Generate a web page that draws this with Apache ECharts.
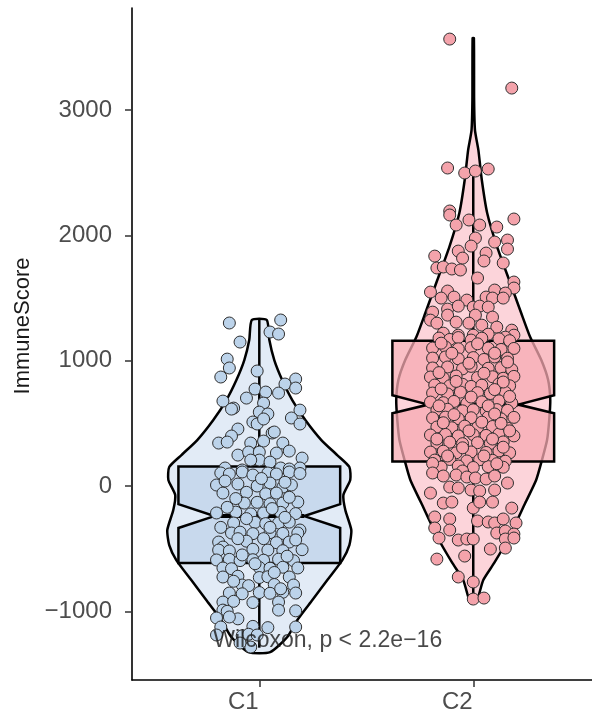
<!DOCTYPE html>
<html>
<head>
<meta charset="utf-8">
<script src="https://cdn.jsdelivr.net/npm/echarts@6/dist/echarts.min.js"></script>
<style>
  html, body { margin: 0; padding: 0; background: #fff; }
  #chart { width: 592px; height: 721px; }
</style>
</head>
<body>
<div id="chart"></div>
<script>
var groups = ["C1", "C2"];
var yTicks = [-1000, 0, 1000, 2000, 3000];

// violin outlines: score levels and half widths (in group units)
var c1ViolinY = [1325, 1165, 1005, 846, 686, 527, 367, 247, 152, 48, -72, -192, -351, -471, -591, -750, -910, -1069, -1205, -1325];
var c1ViolinW = [0.035, 0.047, 0.070, 0.107, 0.154, 0.215, 0.290, 0.364, 0.421, 0.425, 0.393, 0.402, 0.430, 0.421, 0.388, 0.318, 0.248, 0.178, 0.131, 0.051];
var c2ViolinY = [3575, 3080, 2841, 2681, 2442, 2179, 1907, 1644, 1381, 1189, 1005, 846, 686, 527, 367, 200, 48, -136, -407, -614, -750, -886, -926];
var c2ViolinW = [0.003, 0.004, 0.008, 0.024, 0.040, 0.065, 0.112, 0.168, 0.224, 0.266, 0.318, 0.350, 0.360, 0.355, 0.345, 0.320, 0.294, 0.243, 0.168, 0.098, 0.047, 0.023, 0.009];

// box: lower whisker, Q1, notch low, median, notch high, Q3, upper whisker
var c1Box = [-1290, -614, -335, -240, -145, 155, 1325];
var c2Box = [-902, 195, 580, 650, 725, 1160, 2540];

// jittered samples: [horizontal jitter, ImmuneScore]
var c1Points = [
  [-0.14,1301],[0.10,1325],[0.05,1229],[0.09,1213],[-0.09,1149],[-0.15,1013],[-0.14,942],[-0.18,870],[-0.01,918],[0.17,854],
  [0.12,814],[0.17,782],[-0.17,678],[-0.06,702],[-0.02,774],[0.03,750],[0.09,742],[0.02,662],[-0.12,622],[-0.13,614],
  [0.00,590],[0.04,575],[0.19,606],[0.15,543],[0.19,495],[-0.03,511],[-0.01,495],[0.02,535],[-0.10,455],[-0.13,399],
  [0.06,423],[0.07,431],[-0.19,343],[-0.15,351],[-0.04,343],[0.02,359],[0.11,343],[0.14,279],[-0.10,247],[-0.05,271],
  [0.00,271],[0.08,263],[0.20,223],[0.00,207],[0.05,191],[-0.04,207],[-0.16,144],[-0.08,128],[0.10,144],[0.19,144],[0.14,136],
  [-0.18,104],[-0.14,96],[-0.08,112],[-0.03,88],[0.04,104],[0.08,96],[0.14,112],[0.19,100],
  [-0.20,8],[-0.10,16],[-0.01,0],[0.05,24],[0.11,-8],[0.15,8],
  [-0.17,-56],[-0.06,-50],[0.03,-62],[0.08,-56],[0.18,-128],
  [-0.07,-136],[-0.01,-130],[0.05,-142],[0.11,-136],
  [-0.20,-215],[-0.11,-208],[-0.04,-222],[0.02,-215],[0.10,-210],[0.17,-220],
  [-0.12,-295],[-0.02,-290],[0.03,-300],[0.09,-295],[0.14,-288],[0.19,-351],
  [-0.13,-375],[-0.09,-368],[-0.03,-380],[0.05,-372],[0.11,-378],[0.18,-375],
  [-0.19,-447],[-0.06,-440],[0.08,-452],[0.14,-447],[-0.17,-487],
  [-0.19,-511],[-0.14,-518],[-0.03,-505],[0.04,-511],[0.11,-516],[0.20,-508],
  [-0.20,-590],[-0.14,-585],[-0.09,-595],[-0.03,-588],[0.02,-592],[0.09,-584],[0.16,-596],
  [-0.17,-654],[-0.13,-660],[0.00,-650],[0.05,-656],[0.11,-648],[0.18,-654],
  [-0.17,-726],[-0.10,-720],[0.00,-730],[0.04,-724],[0.14,-726],
  [-0.08,-790],[-0.05,-795],[0.07,-786],[0.16,-790],
  [-0.14,-854],[-0.08,-860],[0.00,-850],[0.05,-856],[0.11,-848],[0.17,-854],
  [-0.17,-926],[-0.12,-920],[-0.03,-930],[0.09,-926],
  [-0.17,-990],[-0.15,-1000],[0.09,-990],[0.17,-996],
  [-0.20,-1053],[-0.10,-1060],[-0.14,-1045],
  [-0.18,-1125],[-0.03,-1120],[0.04,-1130],[0.17,-1125],
  [-0.20,-1189],[-0.08,-1195],[-0.05,-1183],[-0.01,-1189],
  [-0.04,-1285],[-0.09,-1253],
  [-0.16,40],[0.01,60],[0.12,30],[-0.11,-100],[0.14,-90],[-0.15,-170],[0.06,-180],[-0.06,-260],[0.12,-250],[-0.18,-330],
  [0.05,-330],[-0.10,-420],[0.02,-420],[0.17,-430],[-0.08,-550],[0.13,-560],[-0.02,-620],[0.07,-690],[-0.12,-760],[0.10,-820]
];
var c2Points = [
  [-0.11,3567],[0.18,3176],[-0.12,2538],[-0.04,2498],[0.01,2514],[0.07,2530],
  [-0.11,2195],[-0.11,2163],[-0.08,2083],[-0.02,2123],[0.03,2083],[0.11,2067],[0.19,2131],[0.01,1979],[-0.01,1915],[0.10,1947],
  [0.16,1963],[0.16,1891],[-0.07,1875],[-0.05,1819],[-0.18,1835],[0.06,1859],[0.05,1796],[0.14,1780],[-0.17,1740],[-0.14,1748],
  [-0.10,1732],[-0.06,1724],[0.02,1660],[-0.20,1548],[-0.12,1556],[0.10,1564],[0.19,1628],[0.19,1580],[0.15,1540],[-0.15,1500],
  [-0.09,1508],[-0.03,1484],[0.06,1508],[0.09,1500],[0.14,1500],[-0.12,1412],[-0.07,1436],[0.00,1428],[0.03,1436],[0.07,1428],
  [-0.19,1388],[-0.12,1364],[0.01,1364],[0.09,1348],[-0.20,1324],[-0.17,1300],[-0.08,1308],[-0.02,1300],[0.04,1284],[0.11,1268],
  [0.18,1244],[-0.14,1220],[-0.07,1204],[0.00,1204],[0.07,1212],[0.19,1204],[0.15,1188],
  [-0.16,1181],[-0.11,1170],[-0.07,1185],[-0.01,1165],[0.04,1180],[0.12,1175],[0.17,1160],
  [-0.19,1101],[-0.13,1110],[-0.07,1095],[-0.01,1105],[0.07,1100],[0.13,1090],[0.19,1098],
  [-0.19,1021],[-0.13,1030],[-0.07,1015],[0.00,1025],[0.05,1010],[0.10,1030],[0.16,1020],
  [-0.19,942],[-0.12,950],[-0.05,935],[-0.01,955],[0.07,940],[0.13,945],[0.18,930],
  [-0.20,870],[-0.14,862],[-0.08,878],[0.02,866],[0.09,872],[0.14,860],[0.19,875],
  [-0.18,806],[-0.11,800],[-0.05,812],[-0.01,795],[0.04,805],[0.12,815],[0.17,800],
  [-0.19,742],[-0.12,735],[-0.06,750],[0.02,745],[0.08,738],[0.15,748],
  [-0.20,670],[-0.14,665],[-0.09,675],[-0.03,660],[0.04,672],[0.12,680],[0.18,662],
  [-0.17,606],[-0.12,612],[-0.05,600],[0.00,608],[0.06,598],[0.11,610],[0.16,604],
  [-0.19,543],[-0.13,550],[-0.07,538],[-0.01,545],[0.07,552],[0.13,536],[0.19,548],
  [-0.17,471],[-0.10,465],[-0.04,478],[0.02,468],[0.09,475],[0.16,462],
  [-0.20,407],[-0.13,412],[-0.07,400],[0.00,410],[0.06,404],[0.12,415],[0.19,400],
  [-0.17,343],[-0.11,350],[-0.05,338],[0.02,346],[0.08,340],[0.14,352],
  [-0.20,271],[-0.14,278],[-0.08,265],[-0.01,272],[0.06,268],[0.12,280],[0.17,265],
  [-0.18,207],[-0.11,212],[-0.03,200],[0.03,210],[0.09,205],[0.15,198],
  [-0.15,152],[-0.07,160],[0.00,148],[0.07,155],[0.14,150],
  [-0.15,1140],[0.02,1135],[0.10,1060],[-0.10,1060],[-0.02,980],[0.16,990],[-0.16,905],[0.05,900],[-0.08,835],[0.14,830],
  [-0.15,775],[0.10,770],[-0.01,710],[0.17,715],[-0.16,640],[0.07,640],[-0.09,570],[0.10,575],[-0.14,505],[0.04,510],
  [0.13,500],[-0.02,440],[0.17,440],[-0.17,375],[0.09,375],[-0.05,305],[0.14,310],[-0.12,240],[0.05,240],[-0.19,180],
  [0.11,178],[-0.05,120],
  [-0.19,104],[-0.14,80],[-0.08,88],[-0.03,72],[0.01,64],[0.06,56],[0.10,80],
  [-0.11,-8],[-0.07,-16],[-0.01,-32],[0.03,-40],[0.10,-32],[0.16,24],
  [-0.20,-56],
  [-0.14,-136],[-0.10,-128],[0.00,-176],[0.03,-128],[0.09,-128],[0.18,-176],
  [-0.18,-247],[-0.11,-263],[0.02,-279],[0.07,-287],[0.10,-295],[0.14,-263],[0.20,-295],
  [-0.18,-335],[-0.11,-351],[0.11,-375],[0.15,-359],[0.19,-383],
  [-0.16,-415],[-0.07,-431],[-0.03,-423],[0.00,-423],[0.15,-423],[0.19,-415],
  [0.08,-503],[0.15,-495],
  [-0.17,-583],[-0.04,-559],[-0.07,-726],[0.00,-766],[0.00,-902],[0.05,-894]
];
var testLabel = "Wilcoxon, p < 2.2e\u221216";
var testPos = [0.785, -1237];

var violinY = [c1ViolinY, c2ViolinY];
var violinW = [c1ViolinW, c2ViolinW];
var boxes = [c1Box, c2Box];
var violinFill = ["#e2ebf6", "#fcd4da"];
var boxFill = ["rgba(190,210,234,0.7)", "rgba(247,169,178,0.75)"];
var BOX_W = 0.378, NOTCH_W = 0.21;

function toXY(pts, g) {
  return pts.map(function (p) { return [g + 1 + p[0], p[1]]; });
}

function renderViolin(params, api) {
  var g = params.dataIndex;
  var ys = violinY[g], ws = violinW[g], cx = g + 1;
  var pts = [];
  for (var i = 0; i < ys.length; i++) pts.push(api.coord([cx + ws[i], ys[i]]));
  for (var j = ys.length - 1; j >= 0; j--) pts.push(api.coord([cx - ws[j], ys[j]]));
  return {
    type: "polygon",
    shape: { points: pts, smooth: 0.2 },
    style: { fill: violinFill[g], stroke: "#000", lineWidth: 2.5, lineJoin: "round" }
  };
}

function renderBox(params, api) {
  var g = params.dataIndex, b = boxes[g], cx = g + 1;
  function c(dx, v) { return api.coord([cx + dx, v]); }
  function seg(p1, p2, w) {
    return { type: "line", shape: { x1: p1[0], y1: p1[1], x2: p2[0], y2: p2[1] },
      style: { stroke: "#000", lineWidth: w } };
  }
  return {
    type: "group",
    children: [
      seg(c(0, b[5]), c(0, b[6]), 2.5),
      seg(c(0, b[1]), c(0, b[0]), 2.5),
      {
        type: "polygon",
        shape: { points: [c(-BOX_W, b[5]), c(BOX_W, b[5]), c(BOX_W, b[4]), c(NOTCH_W, b[3]), c(BOX_W, b[2]),
          c(BOX_W, b[1]), c(-BOX_W, b[1]), c(-BOX_W, b[2]), c(-NOTCH_W, b[3]), c(-BOX_W, b[4])] },
        style: { fill: boxFill[g], stroke: "#000", lineWidth: 2.5, lineJoin: "miter" }
      },
      seg(c(-NOTCH_W, b[3]), c(NOTCH_W, b[3]), 4)
    ]
  };
}

var chart = echarts.init(document.getElementById("chart"));
chart.setOption({
  animation: false,
  grid: { left: 132, right: 0, top: 8, bottom: 41, containLabel: false },
  xAxis: {
    type: "value", min: 0.405, max: 2.555,
    splitLine: { show: false },
    axisLine: { onZero: false, lineStyle: { color: "#000", width: 1.6 } },
    axisTick: { show: true, length: 7, customValues: [1, 2], lineStyle: { color: "#333", width: 1.5 } },
    axisLabel: {
      customValues: [1, 2], fontSize: 24, color: "#4d4d4d", margin: 10,
      fontFamily: "Liberation Sans, Arial, sans-serif", padding: [0, 32, 0, 0],
      formatter: function (v) { return groups[Math.round(v) - 1]; }
    }
  },
  yAxis: {
    type: "value", min: -1548, max: 3815,
    name: "ImmuneScore", nameLocation: "middle", nameGap: 98,
    nameTextStyle: { fontSize: 22, color: "#1a1a1a", fontFamily: "Liberation Sans, Arial, sans-serif", padding: [0, 0, 0, 36] },
    splitLine: { show: false },
    axisLine: { show: true, onZero: false, lineStyle: { color: "#000", width: 1.6 } },
    axisTick: { show: true, length: 7, customValues: yTicks, lineStyle: { color: "#333", width: 1.5 } },
    axisLabel: {
      customValues: yTicks, fontSize: 24, color: "#4d4d4d", margin: 20,
      fontFamily: "Liberation Sans, Arial, sans-serif",
      formatter: function (v) { return v < 0 ? "\u2212" + Math.abs(v) : String(v); }
    }
  },
  series: [
    { type: "custom", renderItem: renderViolin, data: [[1, 0], [2, 0]], encode: { x: 0, y: 1 }, z: 1, silent: true, clip: false },
    { type: "custom", renderItem: renderBox, data: [[1, 0], [2, 0]], encode: { x: 0, y: 1 }, z: 2, silent: true, clip: false },
    { type: "scatter", data: toXY(c1Points, 0), symbolSize: 12, z: 3, silent: true,
      itemStyle: { color: "#bcd3ea", borderColor: "#2e2e2e", borderWidth: 1, opacity: 1 } },
    { type: "scatter", data: toXY(c2Points, 1), symbolSize: 12, z: 3, silent: true,
      itemStyle: { color: "#f4a3ab", borderColor: "#2e2e2e", borderWidth: 1, opacity: 1 } },
    { type: "scatter", data: [testPos], symbolSize: 0, z: 5, silent: true,
      label: { show: true, position: "right", distance: 0, formatter: testLabel,
        fontSize: 23, color: "#1a1a1a", fontFamily: "Liberation Sans, Arial, sans-serif" } }
  ]
});
window.addEventListener("resize", function () { chart.resize(); });
</script>
</body>
</html>
